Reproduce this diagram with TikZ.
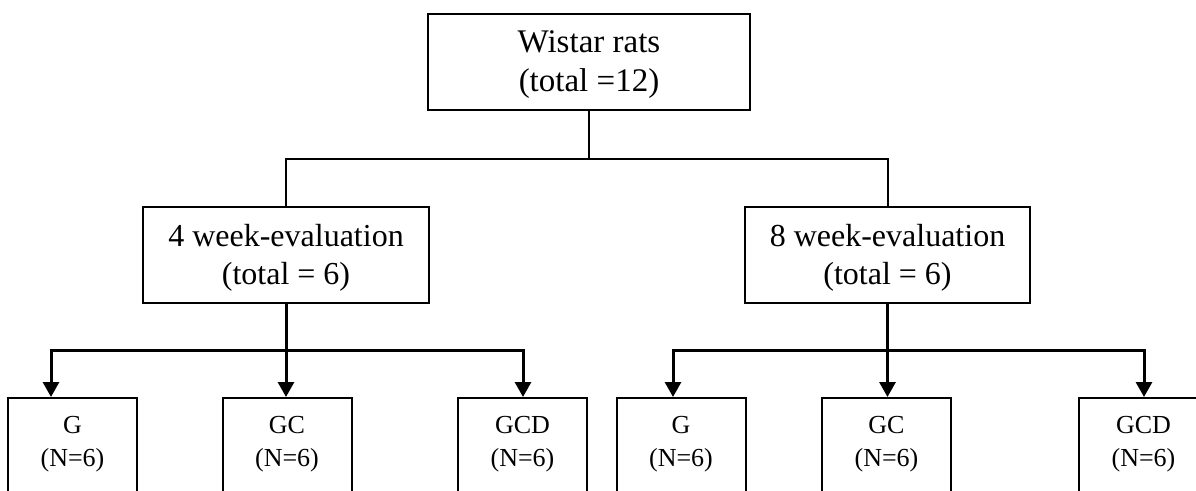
\documentclass[tikz,border=0pt]{standalone}
\usepackage{fontspec}
\setmainfont{Liberation Serif}
\usetikzlibrary{arrows.meta,calc}
\tikzset{tipA/.tip={Triangle[width=16pt,length=15pt]}}
\begin{document}
\begin{tikzpicture}[x=1pt,y=-1pt,
  box/.style={draw, line width=2pt, rectangle, inner sep=0pt, align=center},
  bigtxt/.style={font=\fontsize{33}{39}\selectfont},
  midtxt/.style={font=\fontsize{32}{38}\selectfont},
  leaf/.style={draw, line width=2pt, rectangle, inner sep=0pt,
               minimum width=129pt, minimum height=140pt},
  leaftxt/.style={anchor=north, inner sep=0pt, yshift=-19pt, align=center,
                  font=\fontsize{26}{33}\selectfont},
  tree/.style={line width=2pt},
  arrline/.style={line width=3pt, line join=miter}
]
\useasboundingbox (0,0) rectangle (1196,490);
\clip (0,0) rectangle (1196,490);

\node[box, bigtxt, minimum width=322pt, minimum height=96pt] (top) at (589,62) {\rule{0pt}{27pt}Wistar rats\\(total =12)};
\node[box, midtxt, minimum width=286pt, minimum height=96pt] (m1) at (286,255) {\rule{0pt}{28pt}4 week-evaluation\\(total = 6)};
\node[box, midtxt, minimum width=285pt, minimum height=96pt] (m2) at (887.5,255) {\rule{0pt}{28pt}8 week-evaluation\\(total = 6)};

\node[leaf, label={[leaftxt]north:{G\\(N=6)}}] (g1) at (72.5,468) {};
\node[leaf, label={[leaftxt]north:{GC\\(N=6)}}] (gc1) at (287,468) {};
\node[leaf, label={[leaftxt]north:{GCD\\(N=6)}}] (gcd1) at (522.5,468) {};
\node[leaf, label={[leaftxt]north:{G\\(N=6)}}] (g2) at (681,468) {};
\node[leaf, label={[leaftxt]north:{GC\\(N=6)}}] (gc2) at (886.5,468) {};
\node[leaf, label={[leaftxt]north:{GCD\\(N=6)}}] (gcd2) at (1143.5,468) {};

\coordinate (j0) at ($(top.south)+(0,48)$);
\draw[tree] (top.south) -- (j0);
\draw[tree] (m1.north) |- (j0) -| (m2.north);

\coordinate (h1) at (51,350);
\coordinate (h1r) at (523,350);
\draw[arrline, -{tipA}] (m1.south) -- (m1.south |- gc1.north);
\draw[arrline, {tipA}-{tipA}] (h1 |- g1.north) -- (h1) -- (h1r) -- (h1r |- gcd1.north);

\coordinate (h2) at (673,350);
\coordinate (h2r) at (1144,350);
\draw[arrline, -{tipA}] (m2.south) -- (m2.south |- gc2.north);
\draw[arrline, {tipA}-{tipA}] (h2 |- g2.north) -- (h2) -- (h2r) -- (h2r |- gcd2.north);
\end{tikzpicture}
\end{document}
